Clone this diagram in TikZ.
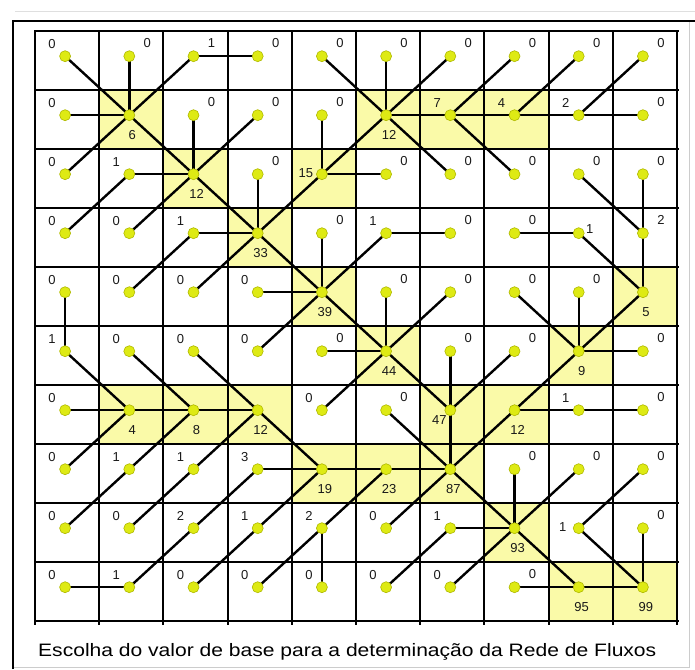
\documentclass[tikz,border=0pt]{standalone}
\usepackage{fontspec}
\usepackage{graphicx}
\setmainfont{Liberation Sans}
\definecolor{cellyel}{RGB}{250,250,168}
\definecolor{dotyel}{RGB}{222,234,20}
\definecolor{dotedge}{RGB}{175,185,0}
\tikzset{
  gridline/.style={line width=2pt, black},
  flow/.style={line width=2.4pt, black},
  dot/.style={circle, minimum size=11pt, inner sep=0pt, fill=dotyel, draw=dotedge, line width=0.6pt},
  numlab/.style={inner sep=0pt, font=\fontsize{13}{13}\selectfont, text=black!90},
  labl/.style={xshift=-13pt, yshift=12pt},
  labr/.style={xshift=18pt, yshift=13pt},
  labb/.style={xshift=3pt, yshift=-20pt},
  labw/.style={xshift=-16pt, yshift=1pt},
  labe/.style={xshift=11pt, yshift=4pt},
  labk/.style={xshift=-11pt, yshift=-10pt},
  labpos/.code={\edef\mytmp{\noexpand\pgfkeysalso{lab#1}}\mytmp}
}
\def\cells{%
1/1/0/1/1/l, 1/2/0/1/0/r, 1/3/1/1/-1/r, 1/4/0/0/-1/r, 1/5/0/1/1/r, 1/6/0/1/0/r, 1/7/0/1/-1/r, 1/8/0/1/-1/r, 1/9/0/1/-1/r, 1/10/0/1/-1/r,
2/1/0/0/1/l, 2/2/6/1/1/b, 2/3/0/1/0/r, 2/4/0/1/-1/r, 2/5/0/1/0/r, 2/6/12/1/-1/b, 2/7/7/0/-1/l, 2/8/4/0/-1/l, 2/9/2/0/-1/l, 2/10/0/0/-1/r,
3/1/0/-1/1/l, 3/2/1/0/1/l, 3/3/12/1/1/b, 3/4/0/1/0/r, 3/5/15/1/-1/w, 3/6/0/0/-1/r, 3/7/0/-1/-1/r, 3/8/0/-1/-1/r, 3/9/0/1/1/r, 3/10/0/1/0/r,
4/1/0/-1/1/l, 4/2/0/-1/1/l, 4/3/1/0/1/l, 4/4/33/1/1/b, 4/5/0/1/0/r, 4/6/1/1/-1/l, 4/7/0/0/-1/r, 4/8/0/0/1/r, 4/9/1/1/1/e, 4/10/2/1/0/r,
5/1/0/1/0/l, 5/2/0/-1/1/l, 5/3/0/-1/1/l, 5/4/0/0/1/l, 5/5/39/1/1/b, 5/6/0/1/0/r, 5/7/0/1/-1/r, 5/8/0/1/1/r, 5/9/0/1/0/r, 5/10/5/1/-1/b,
6/1/1/1/1/l, 6/2/0/1/1/l, 6/3/0/1/1/l, 6/4/0/-1/1/l, 6/5/0/0/1/r, 6/6/44/1/1/b, 6/7/0/1/0/r, 6/8/0/1/-1/r, 6/9/9/1/-1/b, 6/10/0/0/-1/r,
7/1/0/0/1/l, 7/2/4/0/1/b, 7/3/8/0/1/b, 7/4/12/1/1/b, 7/5/0/-1/1/l, 7/6/0/1/1/r, 7/7/47/1/0/k, 7/8/12/1/-1/b, 7/9/1/0/-1/l, 7/10/0/0/-1/r,
8/1/0/-1/1/l, 8/2/1/-1/1/l, 8/3/1/-1/1/l, 8/4/3/0/1/l, 8/5/19/0/1/b, 8/6/23/0/1/b, 8/7/87/1/1/b, 8/8/0/1/0/r, 8/9/0/1/-1/r, 8/10/0/1/-1/r,
9/1/0/-1/1/l, 9/2/0/-1/1/l, 9/3/2/-1/1/l, 9/4/1/-1/1/l, 9/5/2/-1/1/l, 9/6/0/-1/1/l, 9/7/1/0/1/l, 9/8/93/1/1/b, 9/9/1/1/1/w, 9/10/0/1/0/r,
10/1/0/0/1/l, 10/2/1/-1/1/l, 10/3/0/-1/1/l, 10/4/0/-1/1/l, 10/5/0/-1/0/l, 10/6/0/-1/1/l, 10/7/0/-1/1/l, 10/8/0/0/1/r, 10/9/95/0/1/b, 10/10/99/0/0/b}
\begin{document}
\begin{tikzpicture}[x=1pt,y=-1pt]
\useasboundingbox (0,0) rectangle (695,669);
\fill[white] (0,0) rectangle (695,669);
% outer frame
\draw[gray!25, line width=1pt] (15,12) -- (695,12);
\draw[gray!40, line width=1pt] (689,21) -- (689,667) -- (13,667);
\draw[black, line width=2pt] (13,669) -- (13,21) -- (695,21);
% highlighted cells
\foreach \r/\c in {2/2,2/6,2/7,2/8,3/3,3/5,4/4,5/5,5/10,6/6,6/9,7/2,7/3,7/4,7/7,7/8,8/5,8/6,8/7,9/8,10/9,10/10}
  \fill[cellyel] ({35+64.2*(\c-1)},{30.7+59*(\r-1)}) rectangle ++(64.2,59);
% grid
\foreach \i in {0,...,10}
  \draw[gridline] ({35+64.2*\i},30.7) -- ({35+64.2*\i},624.5);
\foreach \j in {0,...,10}
  \draw[gridline] (34,{30.7+59*\j}) -- (679,{30.7+59*\j});
% cell centres
\foreach \r/\c/\lab/\dr/\dc/\pos in \cells
  \coordinate (n-\r-\c) at ({35+64.2*(\c-0.5)-2},{30.7+59*(\r-0.5)-4});
% flow connectors
\foreach \r/\c/\lab/\dr/\dc/\pos in \cells {
  \pgfmathtruncatemacro\tr{\r+\dr}
  \pgfmathtruncatemacro\tc{\c+\dc}
  \pgfmathtruncatemacro\mv{abs(\dr)+abs(\dc)}
  \ifnum\mv>0
    \draw[flow] (n-\r-\c) -- (n-\tr-\tc);
  \fi
}
% dots and numbers
\foreach \r/\c/\lab/\dr/\dc/\pos in \cells {
  \node[dot] (d-\r-\c) at (n-\r-\c) {};
  \node[numlab, labpos=\pos] (t-\r-\c) at (n-\r-\c) {\lab};
}
% caption
\node[anchor=base west, inner sep=0pt] (cap) at (38,656)
  {\fontsize{18}{18}\selectfont\scalebox{1.17}[1]{Escolha do valor de base para a determinação da Rede de Fluxos}};
\end{tikzpicture}
\end{document}
